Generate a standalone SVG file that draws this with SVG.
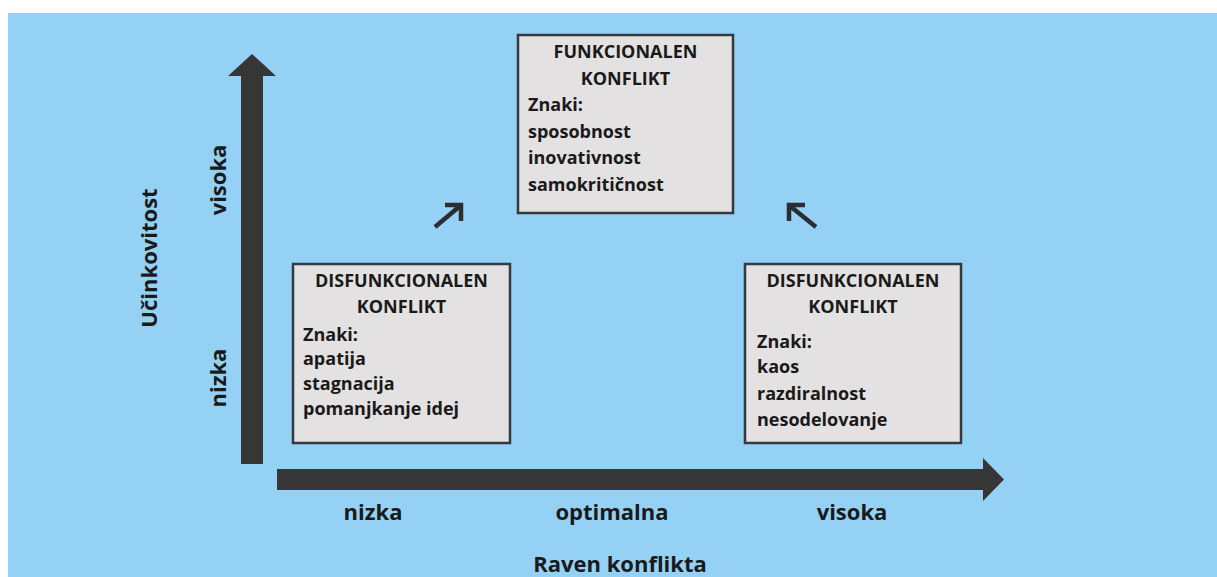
<svg xmlns="http://www.w3.org/2000/svg" width="1217" height="577" viewBox="0 0 1217 577">
<style>
.box{fill:#E3E1E1;stroke:#333a40;stroke-width:2.5}
.t{font-family:"Open Sans","Liberation Sans",sans-serif;font-weight:bold;fill:#1a1a1a}
.bt{font-size:18px}
.ax{font-size:22px}
.c{text-anchor:middle}
.axis{fill:#363636}
.sm{fill:none;stroke:#2a2e33;stroke-width:4.5;stroke-linecap:butt;stroke-linejoin:miter}
</style>
<rect x="0" y="0" width="1217" height="577" fill="#ffffff"/>
<rect x="8" y="13" width="1209" height="564" fill="#94D1F5"/>
<g id="connectors">
<polygon class="axis" points="241,464 263,464 263,76 276,76 252,54 228,76 241,76"/>
<polygon class="axis" points="277,469 983,469 983,458 1004,479.5 983,501 983,490 277,490"/>
<g id="arrow-left"><path class="sm" d="M435,227 L460,206 M445,205 L461,205 L461,221"/></g>
<g id="arrow-right"><path class="sm" d="M816,227 L790,206 M805,205 L789,205 L789,221"/></g>
</g>
<g id="node-top">
<rect class="box" x="518" y="35" width="215" height="178"/>
<text class="t bt c" x="625.5" y="58">FUNKCIONALEN</text>
<text class="t bt c" x="625.5" y="85">KONFLIKT</text>
<text class="t bt" x="528" y="111">Znaki:</text>
<text class="t bt" x="528" y="138">sposobnost</text>
<text class="t bt" x="528" y="164">inovativnost</text>
<text class="t bt" x="528" y="191">samokritičnost</text>
</g>
<g id="node-left">
<rect class="box" x="293" y="264" width="217" height="179"/>
<text class="t bt c" x="401.5" y="287">DISFUNKCIONALEN</text>
<text class="t bt c" x="401.5" y="313">KONFLIKT</text>
<text class="t bt" x="303" y="341">Znaki:</text>
<text class="t bt" x="303" y="365">apatija</text>
<text class="t bt" x="303" y="390">stagnacija</text>
<text class="t bt" x="303" y="415">pomanjkanje idej</text>
</g>
<g id="node-right">
<rect class="box" x="745" y="264" width="216" height="179"/>
<text class="t bt c" x="853" y="287">DISFUNKCIONALEN</text>
<text class="t bt c" x="853" y="313">KONFLIKT</text>
<text class="t bt" x="757" y="348">Znaki:</text>
<text class="t bt" x="757" y="373">kaos</text>
<text class="t bt" x="757" y="400">razdiralnost</text>
<text class="t bt" x="757" y="426">nesodelovanje</text>
</g>
<g id="labels">
<text class="t ax c" x="373" y="520">nizka</text>
<text class="t ax c" x="612" y="520">optimalna</text>
<text class="t ax c" x="852" y="520">visoka</text>
<text class="t ax c" x="620" y="572">Raven konflikta</text>
<text class="t ax c" transform="translate(157,258) rotate(-90)">Učinkovitost</text>
<text class="t ax c" transform="translate(226,180) rotate(-90)">visoka</text>
<text class="t ax c" transform="translate(226,378) rotate(-90)">nizka</text>
</g>
</svg>
